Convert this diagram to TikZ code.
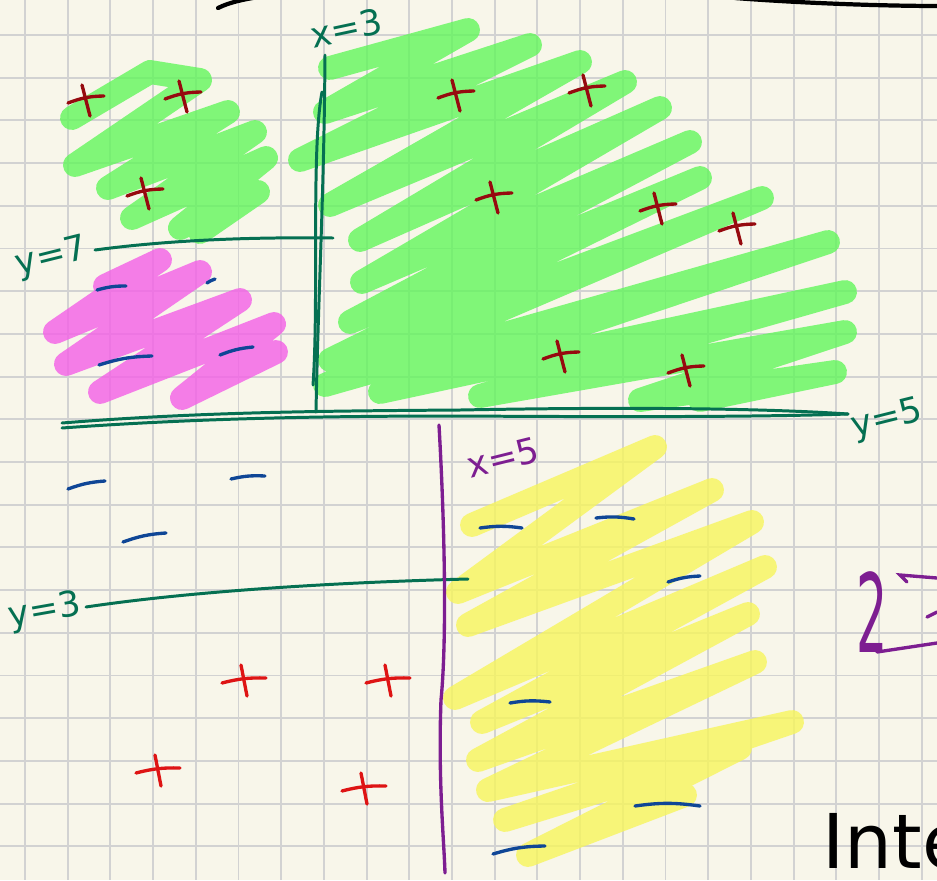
\documentclass[tikz,border=0pt]{standalone}
\usepackage{fontspec}
\usepackage{graphicx}
\setmainfont{DejaVu Sans}
\usepackage{tikz}

\definecolor{paper}{RGB}{248,246,234}
\definecolor{gridgray}{RGB}{210,210,210}
\definecolor{hlgreen}{RGB}{98,246,92}
\definecolor{hlpink}{RGB}{244,95,231}
\definecolor{hlyellow}{RGB}{247,245,92}
\definecolor{axisgreen}{RGB}{5,112,82}
\definecolor{penpurple}{RGB}{125,30,145}
\definecolor{plusdark}{RGB}{150,10,15}
\definecolor{plusred}{RGB}{222,20,20}
\definecolor{minusblue}{RGB}{15,70,150}

\begin{document}
\begin{tikzpicture}[x=0.02cm, y=-0.02cm,
    scribble/.style={line width=13.6pt, line cap=round, line join=round,
        draw opacity=0.8},
    gridline/.style={gridgray, line width=1.1pt},
    axisline/.style={axisgreen, line width=1.7pt, line cap=round},
    pen/.style={line width=1.9pt, line cap=round},
    lbl/.style={font=\fontsize{20}{24}\selectfont, inner sep=0pt}]
    \useasboundingbox (0,0) rectangle (937,880);
    \clip (0,0) rectangle (937,880);
    \fill[paper] (0,0) rectangle (937,880);

    % grid paper
    \foreach \gx in {25,67.7,110.4,153.1,195.8,238.5,281.2,323.9,366.6,409.3,
        452,494.7,537.4,580.1,622.8,665.5,708.2,750.9,793.6,836.3,879,921.7}
        \draw[gridline] (\gx,0) -- (\gx,880);
    \foreach \gy in {35,77.7,120.4,163.1,205.8,248.5,291.2,333.9,376.6,419.3,
        462,504.7,547.4,590.1,632.8,675.5,718.2,760.9,803.6,846.3}
        \draw[gridline] (0,\gy) -- (937,\gy);

    % highlighter
    \draw[scribble, hlgreen] (72,118) -- (150,72) -- (200,80) -- (75,165) -- (228,112)
        -- (108,188) -- (255,132) -- (132,218) -- (266,158) -- (180,228)
        -- (258,192) -- (200,232);
    \draw[scribble, hlgreen] (330,68) -- (468,30) -- (325,112) -- (530,45)
        -- (300,160) -- (580,62) -- (330,205) -- (625,82) -- (360,240)
        -- (660,108) -- (362,282) -- (690,142) -- (350,322) -- (700,178)
        -- (330,360) -- (762,198) -- (325,385) -- (828,242) -- (380,392)
        -- (845,292) -- (480,396) -- (845,332) -- (640,400) -- (835,372)
        -- (700,400);
    \draw[scribble, hlpink] (105,286) -- (160,260) -- (55,332) -- (200,272)
        -- (66,364) -- (240,300) -- (100,392) -- (274,324) -- (182,398)
        -- (276,352);
    \draw[scribble, hlyellow] (472,525) -- (655,447) -- (458,592) -- (712,490)
        -- (468,625) -- (752,522) -- (455,698) -- (765,567) -- (482,722)
        -- (748,614) -- (478,760) -- (755,662) -- (488,790) -- (792,722)
        -- (505,820) -- (740,748) -- (528,855) -- (685,795);

    % top stroke
    \draw[pen, line width=2.4pt] (218,8) .. controls (230,2) and (245,-1) .. (265,-4);
    \draw[pen, line width=2.4pt] (735,-2) .. controls (800,3) and (880,6) .. (940,6);

    % axes and bounds
    \draw[axisline] (62,423) .. controls (200,412) and (320,411) .. (460,410)
        .. controls (620,407) and (760,408) .. (848,414);
    \draw[axisline] (62,428) .. controls (200,418) and (330,416) .. (460,416)
        .. controls (620,417) and (760,417) .. (848,414);
    \draw[axisline] (325,55) .. controls (324,200) and (318,300) .. (316,412);
    \draw[axisline] (322,92) .. controls (311,150) and (319,300) .. (313,385);
    \draw[axisline] (95,250) .. controls (170,240) and (250,237) .. (333,238);
    \draw[axisline] (86,607) .. controls (200,590) and (350,582) .. (468,579);
    \draw[pen, penpurple] (439,425) .. controls (446,550) and (446,650) .. (441,700)
        .. controls (438,780) and (444,840) .. (445,873);

    % labels
    \node[lbl, axisgreen, rotate=12] (xthree) at (346,28) {x=3};
    \node[lbl, axisgreen, rotate=14] (yseven) at (52,258) {y=7};
    \node[lbl, axisgreen, rotate=14] (yfive) at (887,420) {y=5};
    \node[lbl, penpurple, rotate=14] (xfive) at (503,458) {x=5};
    \node[lbl, axisgreen, rotate=10] (ythree) at (45,612) {y=3};
    \node[penpurple, inner sep=0pt, font=\fontsize{62}{66}\selectfont]
        (two) at (872,612) {\scalebox{0.45}[1]{2}};
    \draw[pen, penpurple] (877,652) -- (937,643);
    \draw[pen, penpurple] (907,582) -- (900,575) -- (937,578);
    \draw[pen, penpurple] (927,617) -- (937,612);
    \node[anchor=base west, inner sep=0pt, font=\fontsize{43}{48}\selectfont]
        (inte) at (822,868) {Inte};

    % plus marks
    \foreach \cx/\cy in {86/100,183/96,145/193,456/95,587/90,494/197,
        658/208,737/228,561/356,686/370} {
        \draw[pen, plusdark] ({\cx-18},{\cy+3}) to[bend left=10] ({\cx+18},{\cy-4});
        \draw[pen, plusdark] ({\cx-4},{\cy-15}) -- ({\cx+4},{\cy+16});
    }
    \foreach \cx/\cy in {244/680,388/680,158/770,364/788} {
        \draw[pen, plusred] ({\cx-22},{\cy+3}) to[bend left=8] ({\cx+22},{\cy-2});
        \draw[pen, plusred] ({\cx-3},{\cy-15}) -- ({\cx+3},{\cy+16});
    }

    % minus marks
    \foreach \xa/\ya/\xb/\yb in {97/290/126/286,207/283/215/279,99/365/152/356,
        220/355/253/347,68/489/105/481,231/479/265/476,123/542/166/533,
        480/528/522/528,596/518/634/519,668/582/700/576,510/703/550/702,
        635/806/700/806,493/854/545/846}
        \draw[pen, minusblue] (\xa,\ya) to[bend left=8] (\xb,\yb);
\end{tikzpicture}
\end{document}
